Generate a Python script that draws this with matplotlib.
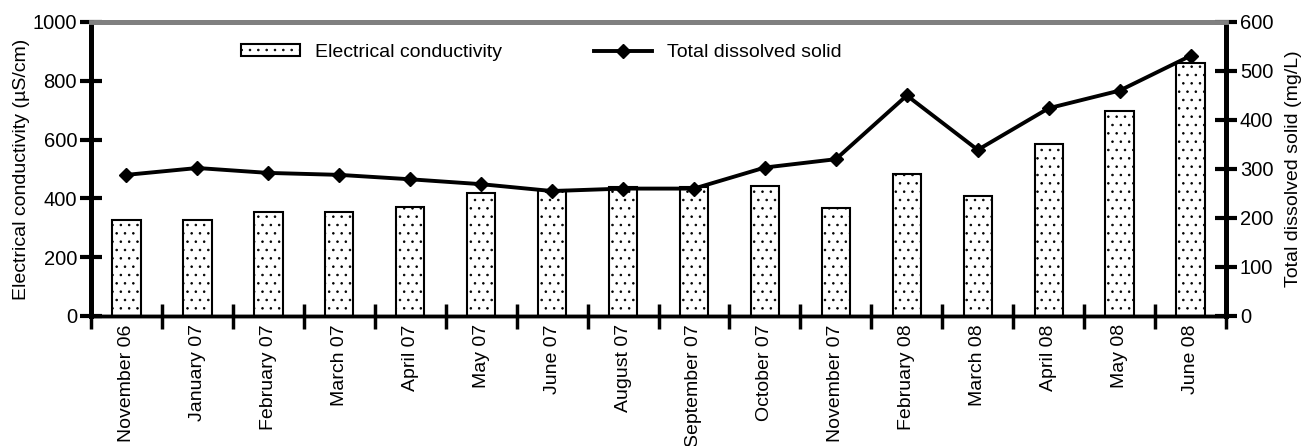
import numpy as np
import matplotlib.pyplot as plt

plt.rcParams['font.family'] = ['Liberation Sans', 'DejaVu Sans']
plt.rcParams['hatch.linewidth'] = 0.6

months = ['November 06', 'January 07', 'February 07', 'March 07', 'April 07',
          'May 07', 'June 07', 'August 07', 'September 07', 'October 07',
          'November 07', 'February 08', 'March 08', 'April 08', 'May 08', 'June 08']
ec = [325, 325, 355, 355, 372, 420, 428, 440, 440, 442, 366, 482, 409, 584, 697, 860]
tds = [288, 302, 292, 288, 279, 269, 255, 260, 260, 303, 320, 450, 339, 424, 460, 531]

fig = plt.figure(figsize=(13.05, 4.46), dpi=100)
ax = fig.add_axes([0.0697, 0.2915, 0.8698, 0.6592])
ax2 = ax.twinx()

x = np.arange(len(months))
ax.bar(x, ec, width=0.4, facecolor='white', edgecolor='black', linewidth=1.5,
       hatch='..', label='Electrical conductivity', zorder=2)
ax2.plot(x, tds, color='black', linewidth=2.8, marker='D', markersize=7,
         label='Total dissolved solid', zorder=3)

ax.set_xlim(-0.5, len(months) - 0.5)
ax.set_ylim(0, 1000)
ax2.set_ylim(0, 600)
ax.set_yticks(np.arange(0, 1001, 200))
ax2.set_yticks(np.arange(0, 601, 100))

# ticks on category boundaries, labels at centres
ax.set_xticks(np.arange(-0.5, len(months), 1))
ax.set_xticklabels([])
ax.set_xticks(x, minor=True)
ax.set_xticklabels(months, minor=True, rotation=90, fontsize=14)
ax.tick_params(axis='x', which='major', direction='inout', length=18, width=2.5)
ax.tick_params(axis='x', which='minor', length=0, pad=6)

ax.tick_params(axis='y', direction='inout', length=16, width=3, labelsize=14.5, pad=2)
ax2.tick_params(axis='y', direction='inout', length=16, width=3, labelsize=14.5, pad=2)

for a in (ax, ax2):
    a.spines['left'].set_linewidth(3.5)
    a.spines['right'].set_linewidth(3.5)
    a.spines['bottom'].set_linewidth(2.5)
    a.spines['top'].set_linewidth(3.5)
    a.spines['top'].set_color('#808080')

ax.set_ylabel('Electrical conductivity (µS/cm)', fontsize=14, labelpad=2)
ax2.set_ylabel('Total dissolved solid (mg/L)', fontsize=14, labelpad=8)

h1, l1 = ax.get_legend_handles_labels()
h2, l2 = ax2.get_legend_handles_labels()
ax2.legend(h1 + h2, l1 + l2, ncol=2, frameon=False, fontsize=14,
           loc='upper left', bbox_to_anchor=(0.117, 0.985), columnspacing=4.7,
           handlelength=3.0, handleheight=0.55)

fig.savefig('out.png', dpi=100)
